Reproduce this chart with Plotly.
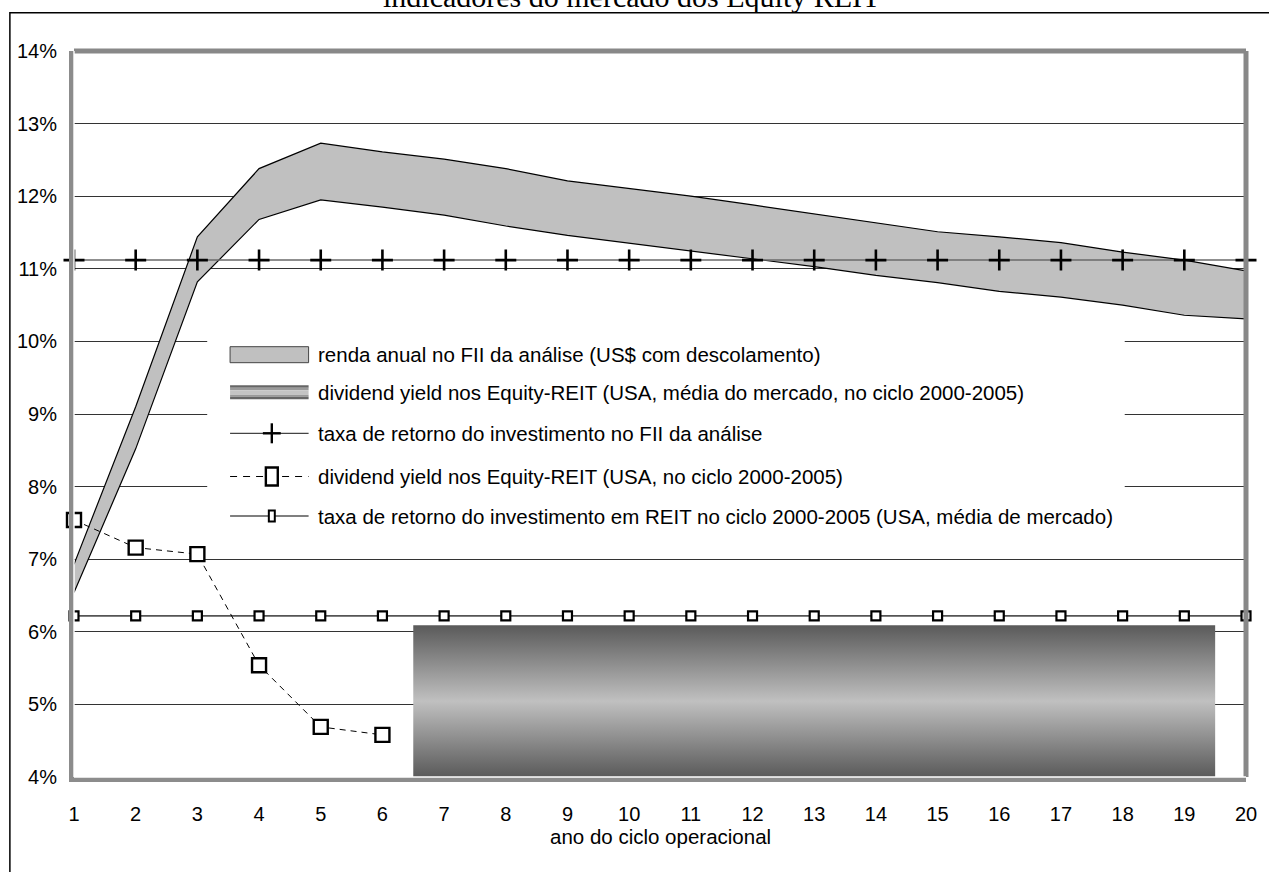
import plotly.graph_objects as go

# ---------------- data ----------------
anos = list(range(1, 21))
renda_sup = [6.93, 9.10, 11.44, 12.38, 12.73, 12.61, 12.51, 12.38, 12.21, 12.11,
             12.00, 11.88, 11.76, 11.63, 11.51, 11.44, 11.36, 11.23, 11.12, 10.97]
renda_inf = [6.54, 8.52, 10.82, 11.68, 11.95, 11.85, 11.74, 11.59, 11.46, 11.36,
             11.25, 11.14, 11.03, 10.91, 10.81, 10.69, 10.61, 10.50, 10.36, 10.31]
tir_fii = [11.12] * 20
dy_reit_anos = [1, 2, 3, 4, 5, 6]
dy_reit = [7.54, 7.16, 7.07, 5.54, 4.69, 4.58]
tir_reit = [6.22] * 20
dy_media_mercado = 6.09
dy_media_span = [6.5, 19.5]
y_min, y_max = 4, 14
y_ticks = list(range(4, 15))

titulo = "indicadores do mercado dos Equity REIT"
titulo_x = "ano do ciclo operacional"
nomes = [
    "renda anual no FII da análise (US$ com descolamento)",
    "dividend yield nos Equity-REIT (USA, média do mercado, no ciclo 2000-2005)",
    "taxa de retorno do investimento no FII da análise",
    "dividend yield nos Equity-REIT (USA, no ciclo 2000-2005)",
    "taxa de retorno do investimento em REIT no ciclo 2000-2005 (USA, média de mercado)",
]

FONT = "Arial, Liberation Sans, sans-serif"
L, R, T, B = 74, 16, 51, 95
W, H = 1269, 872
pw, ph = W - L - R, H - T - B


def px(x):
    return (x - L) / pw


def py(y):
    return 1 - (y - T) / ph


fig = go.Figure()

# gradient block (market average dividend yield)
rx = [dy_media_span[0], dy_media_span[1], dy_media_span[1], dy_media_span[0], dy_media_span[0]]
ry = [y_min, y_min, dy_media_mercado, dy_media_mercado, y_min]
fig.add_trace(go.Scatter(
    x=rx, y=ry, mode="lines", fill="toself", name=nomes[1],
    line=dict(width=0, color="#7a7a7a"),
    fillgradient=dict(type="vertical",
                      colorscale=[[0, "#5a5a5a"], [0.5, "#c0c0c0"], [1, "#5a5a5a"]]),
    hoverinfo="skip",
))

# band
fig.add_trace(go.Scatter(
    x=anos + anos[::-1], y=renda_sup + renda_inf[::-1],
    mode="lines", fill="toself", fillcolor="#c0c0c0",
    line=dict(color="black", width=1.2), name=nomes[0],
))

# REIT return line
fig.add_trace(go.Scatter(
    x=anos, y=tir_reit, mode="lines+markers", name=nomes[4],
    line=dict(color="#555555", width=1.6),
    marker=dict(symbol="square", size=9, color="white", line=dict(color="black", width=2.2)),
    cliponaxis=False,
))

# FII return line
fig.add_trace(go.Scatter(
    x=anos, y=tir_fii, mode="lines+markers", name=nomes[2],
    line=dict(color="#6a6a6a", width=1.5),
    marker=dict(symbol="cross-thin", size=15, color="black", line=dict(color="black", width=2.6)),
    cliponaxis=False,
))

# REIT dividend yield
fig.add_trace(go.Scatter(
    x=dy_reit_anos, y=dy_reit, mode="lines+markers", name=nomes[3],
    line=dict(color="black", width=1, dash="6px,5px"),
    marker=dict(symbol="square", size=14, color="white", line=dict(color="black", width=2.4)),
    cliponaxis=False,
))

P = dict(xref="paper", yref="paper")
shapes = [
    # outer chart border
    dict(type="rect", **P, x0=px(9.5), x1=px(W + 20), y0=py(H + 20), y1=py(12.7),
         line=dict(color="black", width=1.5), fillcolor="rgba(0,0,0,0)", layer="below"),
    # top and right thick borders
    dict(type="line", **P, x0=0, x1=1, y0=1, y1=1, line=dict(color="#888888", width=5)),
    dict(type="line", **P, x0=1, x1=1, y0=0, y1=1, line=dict(color="#888888", width=5)),
    # white centre of the double left / bottom borders
    dict(type="line", **P, x0=0, x1=0, y0=0, y1=1, line=dict(color="white", width=1.4)),
    dict(type="line", **P, x0=0, x1=1, y0=0, y1=0, line=dict(color="white", width=1.4)),
]

# ---------------- legend (drawn by hand) ----------------
leg_y = [354.7, 392.2, 433.3, 476.5, 516.0]
sw_x0, sw_x1, sw_xc, txt_x = 231, 310, 273, 317
shapes.append(dict(type="rect", **P, x0=px(208), x1=px(1131), y0=py(537), y1=py(323),
                   fillcolor="white", line=dict(width=0), layer="above"))
# band swatch
shapes.append(dict(type="rect", **P, x0=px(sw_x0), x1=px(sw_x1), y0=py(leg_y[0] + 8), y1=py(leg_y[0] - 8),
                   fillcolor="#c0c0c0", line=dict(color="#444444", width=1), layer="above"))
# gradient swatch (stripes)
stripes = [("#666666", -7, -4.5), ("#9a9a9a", -4.5, -2), ("#c4c4c4", -2, 2.5),
           ("#9a9a9a", 2.5, 4.5), ("#666666", 4.5, 7)]
for col, a, b in stripes:
    shapes.append(dict(type="rect", **P, x0=px(sw_x0), x1=px(sw_x1),
                       y0=py(leg_y[1] + b), y1=py(leg_y[1] + a),
                       fillcolor=col, line=dict(width=0), layer="above"))
# plus swatch
shapes.append(dict(type="line", **P, x0=px(sw_x0), x1=px(sw_x1), y0=py(leg_y[2]), y1=py(leg_y[2]),
                   line=dict(color="#444444", width=1.3), layer="above"))
shapes.append(dict(type="line", **P, x0=px(sw_xc - 9), x1=px(sw_xc + 9), y0=py(leg_y[2]), y1=py(leg_y[2]),
                   line=dict(color="black", width=2.4), layer="above"))
shapes.append(dict(type="line", **P, x0=px(sw_xc), x1=px(sw_xc), y0=py(leg_y[2] + 10), y1=py(leg_y[2] - 10),
                   line=dict(color="black", width=2.4), layer="above"))
# dashed swatch
shapes.append(dict(type="line", **P, x0=px(sw_x0), x1=px(sw_x1), y0=py(leg_y[3]), y1=py(leg_y[3]),
                   line=dict(color="black", width=1, dash="7px,6px"), layer="above"))
shapes.append(dict(type="rect", **P, x0=px(sw_xc - 6), x1=px(sw_xc + 6), y0=py(leg_y[3] + 9), y1=py(leg_y[3] - 9),
                   fillcolor="white", line=dict(color="black", width=2.4), layer="above"))
# small-square swatch
shapes.append(dict(type="line", **P, x0=px(sw_x0), x1=px(sw_x1), y0=py(leg_y[4]), y1=py(leg_y[4]),
                   line=dict(color="black", width=1.2), layer="above"))
shapes.append(dict(type="rect", **P, x0=px(sw_xc - 3), x1=px(sw_xc + 3), y0=py(leg_y[4] + 5.5), y1=py(leg_y[4] - 5.5),
                   fillcolor="white", line=dict(color="black", width=2), layer="above"))

annotations = [dict(
    text=titulo, **P, x=px(634.5), y=py(-4), xanchor="center", yanchor="middle",
    showarrow=False, font=dict(family="Liberation Serif, Times New Roman, serif", size=30, color="black"),
), dict(
    text=titulo_x, **P, x=0.5, y=py(836), xanchor="center", yanchor="middle",
    showarrow=False, font=dict(family=FONT, size=20.5, color="black"),
)]
for nome, yy in zip(nomes, leg_y):
    annotations.append(dict(text=nome, **P, x=px(txt_x), y=py(yy), xanchor="left", yanchor="middle",
                            showarrow=False, font=dict(family=FONT, size=20.5, color="black")))

fig.update_layout(
    width=W, height=H,
    margin=dict(l=L, r=R, t=T, b=B),
    paper_bgcolor="white", plot_bgcolor="white",
    font=dict(family=FONT, color="black", size=20),
    showlegend=False,
    xaxis=dict(
        range=[1, 20], tickvals=anos, ticktext=[str(a) for a in anos],
        showgrid=False, zeroline=False, showline=True, linecolor="#8c8c8c", linewidth=5,
        ticks="", ticklabelstandoff=15, tickfont=dict(size=20),
    ),
    yaxis=dict(
        range=[y_min, y_max], tickvals=y_ticks, ticktext=[f"{v}%" for v in y_ticks],
        showgrid=True, gridcolor="#333333", gridwidth=1, zeroline=False,
        showline=True, linecolor="#8c8c8c", linewidth=5,
        ticks="", ticklabelstandoff=8, tickfont=dict(size=20),
    ),
    shapes=shapes,
    annotations=annotations,
)

fig.write_html("out.html",
               config={"displayModeBar": False},
               post_script="document.body.style.margin='0';document.body.style.overflow='hidden';")
